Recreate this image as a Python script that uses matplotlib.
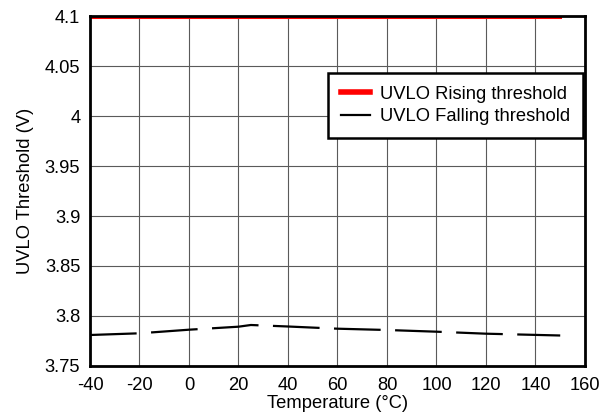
import matplotlib.pyplot as plt
import numpy as np

temp = [-40, -20, 0, 20, 25, 40, 60, 80, 100, 120, 150]
uvlo_fall = [3.781, 3.7827, 3.7863, 3.7893, 3.791, 3.7895, 3.7873, 3.786, 3.7843, 3.7823, 3.7805]
rise_temp = [-40, 150]
uvlo_rise = [4.099, 4.099]

xticks = [-40, -20, 0, 20, 40, 60, 80, 100, 120, 140, 160]
yticks = [3.75, 3.8, 3.85, 3.9, 3.95, 4.0, 4.05, 4.1]
ylabels = ["3.75", "3.8", "3.85", "3.9", "3.95", "4", "4.05", "4.1"]


def main():
    plt.rcParams["font.family"] = ["Liberation Sans", "DejaVu Sans"]
    plt.rcParams["axes.unicode_minus"] = False
    fs = 13.2
    fig = plt.figure(figsize=(6.11, 4.19), dpi=100)
    ax = fig.add_axes([0.1473, 0.1265, 0.8101, 0.8353])

    ax.plot(rise_temp, uvlo_rise, color="red", lw=2.2, label="UVLO Rising threshold", zorder=3)
    ax.plot(temp, uvlo_fall, color="black", lw=1.6, dashes=(21, 6.5),
            label="UVLO Falling threshold", zorder=3)

    ax.set_xlim(-40, 160)
    ax.set_ylim(3.75, 4.1)
    ax.set_xticks(xticks)
    ax.set_yticks(yticks)
    ax.set_yticklabels(ylabels)
    ax.tick_params(length=0, labelsize=fs)
    ax.tick_params(axis="y", pad=7)
    ax.tick_params(axis="x", pad=8)
    ax.grid(True, color="#5a5a5a", lw=0.8)
    for s in ax.spines.values():
        s.set_linewidth(2)
        s.set_color("black")
        s.set_zorder(4)

    ax.set_xlabel("Temperature (°C)", fontsize=fs, labelpad=1)
    ax.set_ylabel("UVLO Threshold (V)", fontsize=fs, labelpad=8)

    leg = ax.legend(loc="upper right", bbox_to_anchor=(583 / 611, 1 - 73 / 419),
                    bbox_transform=fig.transFigure, fontsize=fs, fancybox=False,
                    framealpha=1, edgecolor="black", handlelength=1.6,
                    handletextpad=0.55, labelspacing=0.3, borderpad=0.7,
                    borderaxespad=0)
    leg.get_frame().set_linewidth(1.8)
    leg.get_lines()[0].set_linewidth(4)
    leg.get_lines()[1].set_linestyle("-")

    fig.savefig("out.png", dpi=100)


if __name__ == "__main__":
    main()
